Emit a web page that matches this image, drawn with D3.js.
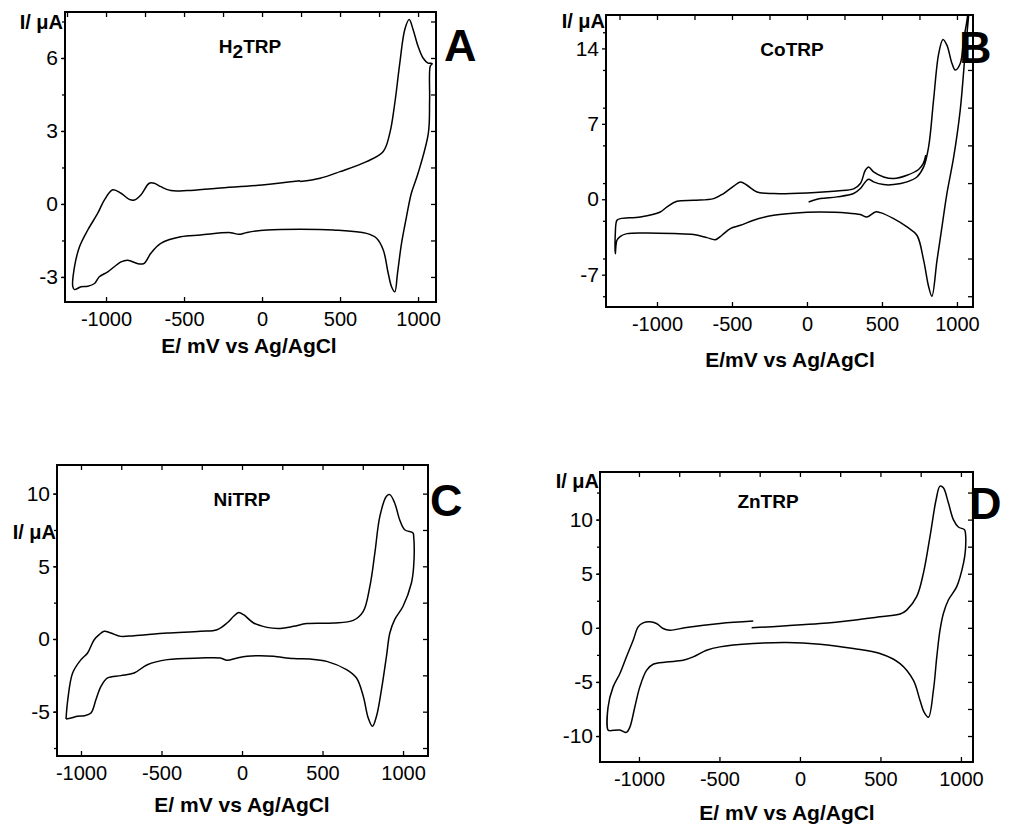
<!DOCTYPE html>
<html><head><meta charset="utf-8">
<script src="https://cdn.jsdelivr.net/npm/d3@7"></script>
<style>body{margin:0;background:#fff}svg{display:block}</style>
</head><body>
<script>
// ---------- DATA ----------
const xTicks = [-1000, -500, 0, 500, 1000];
const yTicksA = [-3, 0, 3, 6];
const yTicksB = [-7, 0, 7, 14];
const yTicksC = [-5, 0, 5, 10];
const yTicksD = [-10, -5, 0, 5, 10];
const titles = ["H2TRP", "CoTRP", "NiTRP", "ZnTRP"];
const letters = ["A", "B", "C", "D"];

// E (mV), I (uA) in scan order
const cvA = [[245,0.92],[372,1.06],[500,1.33],[670,1.74],[777,2.16],[819,2.91],[851,4.15],[883,5.79],[915,7.17],[943,7.58],[968,7.17],[1000,6.48],[1032,6.0],[1064,5.79],[1090,5.77],[1078,5.66],[1074,4.28],[1066,2.91],[1000,1.26],[957,0.44],[926,-0.52],[894,-1.62],[868,-2.86],[851,-3.61],[830,-3.4],[809,-2.86],[777,-1.89],[734,-1.41],[670,-1.21],[457,-1.07],[245,-1.04],[32,-1.07],[-96,-1.17],[-149,-1.25],[-202,-1.18],[-394,-1.28],[-521,-1.35],[-649,-1.62],[-713,-2.03],[-755,-2.44],[-787,-2.47],[-862,-2.31],[-904,-2.38],[-989,-2.79],[-1043,-2.99],[-1074,-3.27],[-1117,-3.38],[-1160,-3.40],[-1202,-3.52],[-1213,-3.4],[-1202,-2.58],[-1170,-1.76],[-1117,-1.07],[-1053,-0.38],[-1011,0.16],[-957,0.58],[-904,0.44],[-851,0.19],[-819,0.16],[-777,0.37],[-723,0.85],[-691,0.85],[-649,0.71],[-585,0.55],[-479,0.55],[-287,0.65],[0,0.78],[245,0.95]];

const cvB = [[11,-0.25],[89,0.06],[200,0.22],[311,0.53],[356,0.99],[389,1.61],[411,1.86],[444,1.61],[511,1.36],[578,1.36],[667,1.61],[733,2.07],[778,3.0],[811,4.86],[844,9.2],[878,13.5],[907,14.83],[933,14.3],[967,12.6],[989,12.0],[1022,12.6],[1044,14.8],[1067,16.6],[1085,19],[1078,17.1],[1056,13.8],[1022,8.3],[978,3.9],[933,0.53],[900,-2.57],[867,-5.67],[833,-9.0],[811,-8.1],[778,-5.67],[733,-3.34],[667,-2.57],[578,-1.8],[489,-1.24],[456,-1.18],[400,-1.64],[356,-1.42],[267,-1.27],[89,-1.18],[0,-1.21],[-222,-1.49],[-356,-1.95],[-444,-2.42],[-511,-2.73],[-567,-3.34],[-611,-3.75],[-667,-3.56],[-756,-3.28],[-889,-3.19],[-1067,-3.13],[-1200,-3.19],[-1244,-3.44],[-1267,-3.81],[-1278,-5.05],[-1278,-3.19],[-1267,-1.95],[-1244,-1.8],[-1111,-1.64],[-978,-1.18],[-933,-0.71],[-867,-0.19],[-756,-0.09],[-622,0.06],[-556,0.53],[-489,1.21],[-444,1.61],[-400,1.3],[-333,0.68],[-222,0.53],[0,0.59],[200,0.77],[311,0.96],[356,1.46],[389,2.69],[411,3.0],[444,2.54],[511,2.07],[578,1.92],[667,2.23],[744,2.76],[775,3.3],[792,4.1]];

const cvC = [[-1093,-5.50],[-1082,-4.17],[-1052,-2.34],[-1000,-1.42],[-959,-0.96],[-918,-0.05],[-887,0.30],[-856,0.53],[-814,0.41],[-753,0.18],[-670,0.23],[-464,0.41],[-258,0.53],[-155,0.64],[-93,1.10],[-52,1.56],[-21,1.83],[10,1.67],[72,1.10],[155,0.80],[237,0.73],[320,0.87],[402,1.06],[567,1.10],[691,1.28],[753,1.90],[794,3.62],[825,5.92],[856,8.44],[897,9.82],[918,9.93],[948,9.36],[979,8.21],[1010,7.52],[1062,7.29],[1066,7.06],[1066,5.0],[1052,3.85],[1000,2.25],[948,1.33],[918,0.41],[897,-1.19],[866,-3.49],[835,-5.32],[810,-6.01],[784,-5.44],[753,-3.94],[711,-2.68],[649,-2.11],[526,-1.54],[423,-1.38],[320,-1.35],[196,-1.19],[113,-1.15],[31,-1.19],[-31,-1.31],[-93,-1.47],[-134,-1.31],[-258,-1.31],[-464,-1.42],[-588,-1.77],[-670,-2.34],[-753,-2.52],[-835,-2.68],[-876,-3.26],[-907,-4.17],[-938,-5.09],[-979,-5.28],[-1021,-5.32],[-1062,-5.44],[-1093,-5.50]];

const cvD = [[-300,0.0],[-83,0.19],[124,0.40],[332,0.71],[497,1.02],[622,1.27],[663,1.64],[725,2.88],[767,5.05],[808,8.45],[846,11.86],[870,13.1],[891,12.94],[922,11.55],[953,10.0],[984,9.32],[1022,9.07],[1028,8.76],[1028,7.2],[1016,5.98],[974,3.81],[922,2.57],[891,1.33],[870,-0.22],[850,-2.69],[829,-5.79],[798,-8.27],[771,-7.8],[746,-6.72],[705,-4.86],[622,-3.31],[497,-2.38],[332,-1.92],[124,-1.52],[-83,-1.36],[-290,-1.46],[-497,-1.76],[-580,-2.07],[-663,-2.69],[-725,-3.0],[-829,-3.16],[-912,-3.37],[-953,-3.93],[-995,-5.48],[-1026,-7.34],[-1057,-9.20],[-1078,-9.66],[-1119,-9.44],[-1181,-9.5],[-1192,-9.44],[-1192,-7.34],[-1161,-5.48],[-1119,-4.24],[-1078,-2.69],[-1036,-1.15],[-1005,0.09],[-974,0.46],[-933,0.56],[-891,0.40],[-850,-0.06],[-808,-0.22],[-705,0.03],[-497,0.40],[-290,0.62]];

// ---------- LAYOUT ----------
const W = 1013, H = 827;
const panels = [
  {x0:65, x1:436, y0:12, y1:302, xd:[-1263,1115], yd:[-4.03,7.89], yt:yTicksA, ys:3, data:cvA,
   title:[250,53], letter:[444,61], ylab:[63,29], xlab:[249,353], xlabText:"E/ mV vs Ag/AgCl"},
  {x0:606, x1:973, y0:15, y1:307, xd:[-1340,1107], yd:[-10.0,17.1], yt:yTicksB, ys:7, data:cvB,
   title:[792,56], letter:[959,63], ylab:[605,28], xlab:[790,367], xlabText:"E/mV vs Ag/AgCl"},
  {x0:57, x1:428, y0:465, y1:756, xd:[-1149,1155], yd:[-8.05,11.97], yt:yTicksC, ys:5, data:cvC,
   title:[242,506], letter:[430,516], ylab:[56,539], xlab:[242,812], xlabText:"E/ mV vs Ag/AgCl"},
  {x0:600, x1:973, y0:472, y1:762, xd:[-1242,1075], yd:[-12.4,14.4], yt:yTicksD, ys:5, data:cvD,
   title:[768,508], letter:[969,519], ylab:[599,488], xlab:[787,820], xlabText:"E/ mV vs Ag/AgCl"}
];

const svg = d3.select("body").append("svg").attr("width", W).attr("height", H)
  .style("font-family", "'Liberation Sans', Arial, sans-serif");

panels.forEach((p, i) => {
  const x = d3.scaleLinear().domain(p.xd).range([p.x0, p.x1]);
  const y = d3.scaleLinear().domain(p.yd).range([p.y1, p.y0]);
  const g = svg.append("g");
  const fmt = d => String(d);

  g.append("clipPath").attr("id", "clip" + i).append("rect")
    .attr("x", p.x0).attr("y", p.y0).attr("width", p.x1 - p.x0).attr("height", p.y1 - p.y0);

  const minorX = d3.range(-1250, 1251, 250).filter(v => v > p.xd[0] && v < p.xd[1]);
  const minorY = d3.range(-30, 30.01, p.ys / 2).filter(v => v > p.yd[0] && v < p.yd[1]);

  const bottom = g.append("g").attr("transform", `translate(0,${p.y1})`)
    .call(d3.axisBottom(x).tickValues(xTicks).tickSize(-5).tickPadding(10).tickFormat(fmt));
  bottom.selectAll("text").attr("dy", "0.71em").style("font-size", "20px").attr("fill", "#000");
  const left = g.append("g").attr("transform", `translate(${p.x0},0)`)
    .call(d3.axisLeft(y).tickValues(p.yt).tickSize(4).tickPadding(3).tickFormat(fmt));
  left.selectAll("text").style("font-size", "21px").attr("fill", "#000");
  g.append("g").attr("transform", `translate(${p.x0},0)`)
    .call(d3.axisLeft(y).tickValues(minorY).tickSize(3).tickFormat(""));
  g.append("g").attr("transform", `translate(0,${p.y0})`)
    .call(d3.axisTop(x).tickValues(minorX).tickSize(-5).tickFormat(""));
  g.append("g").attr("transform", `translate(${p.x1},0)`)
    .call(d3.axisRight(y).tickValues(minorY).tickSize(-5).tickFormat(""));
  g.selectAll(".domain").remove();
  g.selectAll(".tick line").attr("stroke", "#000").attr("stroke-width", 1.3);

  g.append("rect").attr("x", p.x0).attr("y", p.y0)
    .attr("width", p.x1 - p.x0).attr("height", p.y1 - p.y0)
    .attr("fill", "none").attr("stroke", "#000").attr("stroke-width", 2);

  const line = d3.line().x(d => x(d[0])).y(d => y(d[1])).curve(d3.curveCatmullRom.alpha(0.5));
  g.append("path").datum(p.data).attr("clip-path", `url(#clip${i})`)
    .attr("d", line).attr("fill", "none").attr("stroke", "#000").attr("stroke-width", 1.5);

  // texts
  const t = g.append("text").attr("x", p.title[0]).attr("y", p.title[1])
    .attr("text-anchor", "middle").style("font-size", "19px").style("font-weight", "bold");
  if (titles[i] === "H2TRP") {
    t.append("tspan").text("H");
    t.append("tspan").text("2").attr("dy", 5);
    t.append("tspan").text("TRP").attr("dy", -5);
  } else t.text(titles[i]);

  g.append("text").attr("x", p.letter[0]).attr("y", p.letter[1])
    .style("font-size", "45px").style("font-weight", "bold").text(letters[i]);
  g.append("text").attr("x", p.ylab[0]).attr("y", p.ylab[1]).attr("text-anchor", "end")
    .style("font-size", "20px").style("font-weight", "bold").text("I/ μA");
  g.append("text").attr("x", p.xlab[0]).attr("y", p.xlab[1]).attr("text-anchor", "middle")
    .style("font-size", "21px").style("font-weight", "bold").text(p.xlabText);
});
</script>
</body></html>
